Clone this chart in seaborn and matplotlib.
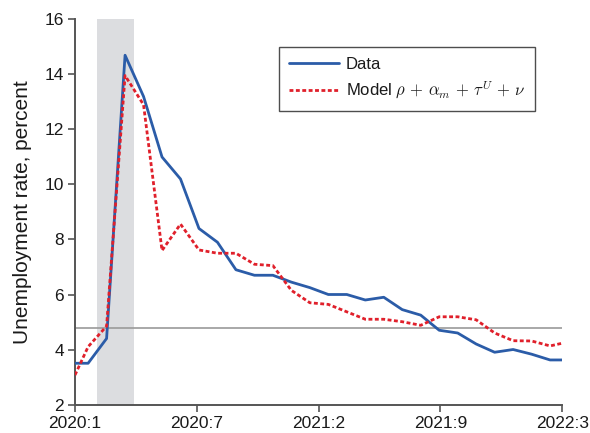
import numpy as np
import pandas as pd
import matplotlib
matplotlib.use("Agg")
import matplotlib.pyplot as plt
import seaborn as sns

# Monthly series, Jan 2020 (index 0) through Apr 2022
months = list(range(28))
data_rate = [3.5, 3.5, 4.4, 14.7, 13.2, 11.0, 10.2, 8.4, 7.9, 6.9, 6.7, 6.7,
             6.45, 6.25, 6.0, 6.0, 5.8, 5.9, 5.45, 5.25, 4.7, 4.6, 4.2, 3.9,
             4.0, 3.83, 3.62, 3.62]
model_rate = [2.65, 4.1, 4.85, 13.96, 12.9, 7.6, 8.56, 7.62, 7.5, 7.5, 7.1, 7.05,
              6.15, 5.7, 5.64, 5.37, 5.1, 5.1, 5.01, 4.88, 5.19, 5.19, 5.08, 4.6,
              4.32, 4.31, 4.13, 4.28]
reference_level = 4.79
recession_span = (1.47, 3.48)
tick_labels = ["2020:1", "2020:7", "2021:2", "2021:9", "2022:3"]
series_names = ["Data", r"Model $\rho\,+\,\alpha_m\,+\,\tau^U\,+\,\nu$"]

df = pd.DataFrame({
    "month": months * 2,
    "rate": data_rate + model_rate,
    "series": [series_names[0]] * len(months) + [series_names[1]] * len(months),
})

sns.set_style("ticks")
plt.rcParams["font.family"] = ["Liberation Sans", "DejaVu Sans"]
plt.rcParams["mathtext.fontset"] = "cm"

fig = plt.figure(figsize=(5.9, 4.33), dpi=100)
ax = fig.add_axes([0.1271, 0.0658, 0.8259, 0.8892])

ax.axvspan(*recession_span, color="#dcdde0", lw=0, zorder=0)
ax.axhline(reference_level, color="#9a9a9a", lw=1.2, zorder=1)

sns.lineplot(data=df, x="month", y="rate", hue="series", style="series",
             palette=["#2b5ca8", "#e0202b"],
             dashes={series_names[0]: "", series_names[1]: (1.4, 0.9)},
             linewidth=2.0, ax=ax, zorder=3)

xlo, xhi = 0.29, 26.66
ax.set_xlim(xlo, xhi)
ax.set_ylim(2, 16)
ax.set_xticks(np.linspace(xlo, xhi, 5))
ax.set_xticklabels(tick_labels)
ax.set_yticks(range(2, 17, 2))
ax.set_xlabel("")
ax.set_ylabel("Unemployment rate, percent", fontsize=15, color="#1a1a1a", labelpad=9)

for s in ["top", "right"]:
    ax.spines[s].set_visible(False)
for s in ["left", "bottom"]:
    ax.spines[s].set_color("#555555")
    ax.spines[s].set_linewidth(1.4)
ax.tick_params(axis="both", direction="out", length=5, width=1.2, color="#555555",
               labelsize=12.5, labelcolor="#1a1a1a", pad=3)

leg = ax.legend(loc="upper left", bbox_to_anchor=(0.4186, 0.9286), borderaxespad=0,
                fontsize=12, handlelength=3.0, handletextpad=0.4, labelspacing=0.45,
                borderpad=0.6, frameon=True, fancybox=False, title=None)
leg.get_frame().set_edgecolor("#222222")
leg.get_frame().set_linewidth(1.0)
for t in leg.get_texts():
    t.set_color("#1a1a1a")

fig.savefig("out.png", dpi=100)
